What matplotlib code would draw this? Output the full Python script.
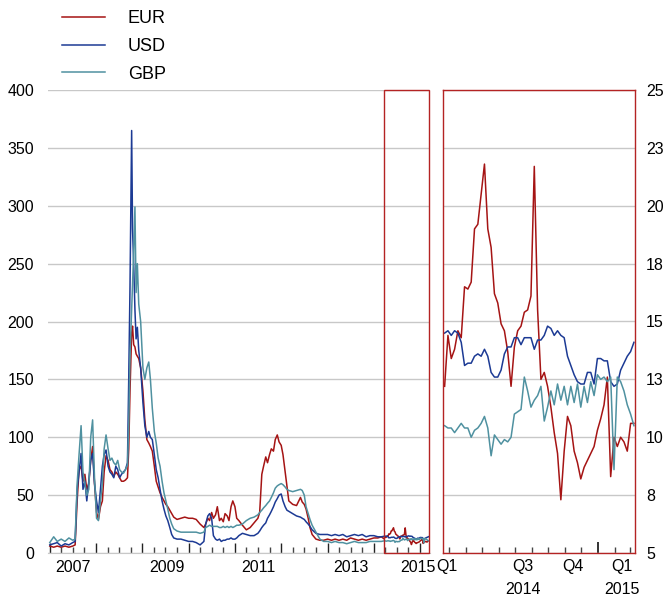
import matplotlib
matplotlib.use("Agg")
import matplotlib.pyplot as plt
import matplotlib.dates as mdates
from matplotlib.patches import Rectangle
import numpy as np
import pandas as pd

plt.rcParams["font.family"] = ["Liberation Sans", "DejaVu Sans"]

# long history, sampled more densely around the stress episodes
hist_dates = [
    "2007-01-01", "2007-02-01", "2007-03-01", "2007-04-01", "2007-05-01", "2007-06-01",
    "2007-07-01", "2007-07-20", "2007-08-05", "2007-08-20", "2007-09-05", "2007-09-20",
    "2007-10-05", "2007-10-20", "2007-11-05", "2007-11-20", "2007-12-05", "2007-12-20",
    "2008-01-05", "2008-01-20", "2008-02-05", "2008-02-20", "2008-03-05", "2008-03-20",
    "2008-04-05", "2008-04-20", "2008-05-05", "2008-05-20", "2008-06-05", "2008-06-20",
    "2008-07-05", "2008-07-20", "2008-08-05", "2008-08-20", "2008-09-05", "2008-09-15",
    "2008-09-25", "2008-10-08", "2008-10-15", "2008-10-24", "2008-11-03", "2008-11-12",
    "2008-11-22", "2008-12-03", "2008-12-18",
    "2009-01-05", "2009-01-20", "2009-02-05", "2009-02-20", "2009-03-05", "2009-03-20",
    "2009-04-05", "2009-04-20", "2009-05-05", "2009-05-20", "2009-06-05", "2009-06-20",
    "2009-07-05", "2009-07-20", "2009-08-05", "2009-08-20", "2009-09-05", "2009-10-01",
    "2009-11-01", "2009-12-01",
    "2010-01-01", "2010-02-01", "2010-03-01", "2010-04-01", "2010-05-01", "2010-05-15",
    "2010-06-01", "2010-06-15", "2010-07-01", "2010-07-15", "2010-08-01", "2010-08-15",
    "2010-09-01", "2010-09-15", "2010-10-01", "2010-10-15", "2010-11-01", "2010-11-15",
    "2010-12-01", "2010-12-15",
    "2011-01-01", "2011-01-15", "2011-02-01", "2011-03-01", "2011-04-01", "2011-05-01",
    "2011-06-01", "2011-07-01", "2011-07-15", "2011-08-01", "2011-08-15", "2011-09-01",
    "2011-09-15", "2011-10-01", "2011-10-15", "2011-11-01", "2011-11-15", "2011-12-01",
    "2011-12-15",
    "2012-01-01", "2012-01-15", "2012-02-01", "2012-02-15", "2012-03-01", "2012-04-01",
    "2012-05-01", "2012-06-01", "2012-06-15", "2012-07-01", "2012-07-15", "2012-08-01",
    "2012-08-15", "2012-09-01", "2012-10-01", "2012-11-01", "2012-12-01",
    "2013-01-01", "2013-02-01", "2013-03-01", "2013-04-01", "2013-05-01", "2013-06-01",
    "2013-07-01", "2013-08-01", "2013-09-01", "2013-10-01", "2013-11-01", "2013-12-01",
    "2014-01-01", "2014-02-01", "2014-03-01",
]
eur_hist = [
    6, 5, 6, 5, 6, 5, 6, 7, 45, 72, 75, 62, 68, 55, 60, 80, 92, 60,
    35, 29, 40, 45, 70, 84, 80, 72, 70, 66, 70, 68, 65, 62, 62, 63, 65, 90,
    140, 190, 196, 180, 178, 172, 170, 168, 160,
    140, 115, 98, 95, 92, 88, 75, 62, 57, 52, 48, 45, 42, 40, 37, 34, 31, 29, 30, 31,
    30, 30, 29, 25, 22, 25, 30, 28, 35, 30, 33, 40, 28, 30, 27, 34, 32, 28, 40, 45,
    40, 30, 28, 24, 20, 22, 26, 30, 35, 68, 75, 83, 78, 85, 90, 88, 98, 102, 96,
    93, 85, 70, 58, 45, 42, 41, 48, 44, 42, 38, 30, 22, 16, 12, 11, 11,
    12, 11, 12, 11, 12, 11, 13, 12, 11, 12, 11, 12,
    13, 13, 14,
]
usd_hist = [
    7, 8, 9, 6, 8, 7, 9, 10, 55, 70, 86, 55, 62, 45, 62, 80, 86, 60,
    45, 35, 55, 75, 85, 89, 75, 70, 68, 65, 75, 72, 65, 68, 70, 72, 78, 150,
    230, 365, 280, 250, 210, 185, 195, 175, 160,
    130, 110, 100, 105, 100, 98, 85, 72, 65, 55, 45, 38, 32, 28, 22, 16, 13, 12, 12, 11,
    10, 10, 9, 7, 10, 25, 32, 34, 30, 15, 12, 11, 12, 10, 11, 11, 12, 12, 13, 12,
    12, 13, 15, 17, 16, 15, 15, 17, 19, 22, 24, 26, 30, 33, 36, 40, 44, 47, 50,
    51, 45, 40, 37, 36, 34, 32, 31, 30, 29, 27, 25, 23, 20, 17, 16, 16,
    16, 15, 16, 15, 16, 14, 15, 16, 15, 16, 14, 15,
    15, 14, 14,
]
gbp_hist = [
    9, 14, 10, 12, 10, 13, 11, 12, 60, 85, 110, 70, 60, 50, 55, 100, 115, 65,
    30, 28, 45, 60, 90, 102, 90, 80, 82, 78, 76, 80, 72, 70, 69, 72, 76, 110,
    170, 210, 230, 260, 299, 225, 250, 215, 200,
    160, 150, 160, 165, 150, 125, 105, 95, 82, 75, 62, 52, 45, 38, 30, 25, 21, 19, 18, 18,
    18, 18, 18, 17, 18, 22, 23, 24, 23, 23, 23, 23, 22, 22, 23, 22, 23, 22, 23, 22,
    23, 24, 24, 25, 28, 30, 31, 33, 35, 37, 39, 41, 43, 45, 48, 52, 56, 58, 59,
    60, 59, 57, 55, 54, 53, 54, 55, 54, 50, 40, 34, 29, 24, 18, 12, 10,
    10, 9, 10, 9, 9, 8, 9, 10, 9, 9, 9, 10,
    10, 10, 10,
]

# recent window, one reading about every six days
recent_start, recent_end = "2014-03-23", "2015-03-09"
eur_recent = [
    12.2, 14.4, 13.4, 13.8, 14.6, 14.3, 16.5, 16.4, 16.7, 19.0,
    19.2, 20.5, 21.8, 19.0, 18.2, 16.2, 15.8, 14.9, 14.6, 13.7,
    12.2, 13.9, 14.6, 14.8, 15.4, 15.5, 16.1, 21.7, 15.5, 12.5,
    12.8, 12.2, 11.3, 10.2, 9.3, 7.3, 9.4, 10.9, 10.5, 9.4,
    8.9, 8.2, 8.7, 9.0, 9.3, 9.6, 10.3, 10.8, 11.4, 12.6,
    8.3, 10.0, 9.6, 10.0, 9.8, 9.4, 10.6, 10.6,
]
usd_recent = [
    14.5, 14.6, 14.4, 14.6, 14.5, 14.1, 13.1, 13.2, 13.2, 13.5,
    13.6, 13.5, 13.8, 13.5, 12.8, 12.6, 12.6, 12.9, 13.6, 13.9,
    13.9, 14.3, 14.3, 14.0, 14.3, 14.3, 14.3, 13.8, 14.2, 14.2,
    14.4, 14.8, 14.7, 14.4, 14.6, 14.4, 14.3, 13.5, 13.1, 12.7,
    12.4, 12.3, 12.3, 12.8, 12.8, 12.3, 13.4, 13.4, 13.3, 13.3,
    12.4, 12.2, 12.3, 12.9, 13.2, 13.5, 13.7, 14.1,
]
gbp_recent = [
    10.5, 10.4, 10.4, 10.2, 10.4, 10.6, 10.4, 10.4, 10.0, 10.3,
    10.4, 10.6, 10.9, 10.4, 9.2, 10.1, 9.9, 9.7, 9.9, 9.8,
    10.0, 11.0, 11.1, 11.2, 12.6, 12.0, 11.3, 11.6, 11.8, 12.2,
    10.7, 11.3, 12.0, 11.4, 12.3, 11.6, 12.2, 11.4, 12.2, 11.5,
    12.3, 11.3, 12.2, 11.5, 12.4, 11.8, 12.7, 12.5, 12.6, 12.4,
    12.6, 8.6, 12.6, 12.4, 12.0, 11.4, 11.0, 10.5,
]

series_names = ["EUR", "USD", "GBP"]
colors = ["#a51414", "#1c3a94", "#4f91a0"]
box_color = "#b42323"

hist_x = pd.to_datetime(hist_dates)
recent_x = pd.date_range(recent_start, recent_end, periods=len(eur_recent))
full_x = hist_x.append(recent_x)
full_series = [eur_hist + eur_recent, usd_hist + usd_recent, gbp_hist + gbp_recent]
recent_series = [eur_recent, usd_recent, gbp_recent]

left_lim = (pd.Timestamp("2006-12-18"), pd.Timestamp("2015-03-20"))
right_lim = (pd.Timestamp("2014-03-20"), pd.Timestamp("2015-03-11"))

W, H = 666, 601
fig = plt.figure(figsize=(W / 100, H / 100), dpi=100)

# ---- left panel: full history
ax = fig.add_axes([48 / W, 48 / H, 382 / W, 463 / H])
for name, vals, c in zip(series_names, full_series, colors):
    ax.plot(full_x, vals, color=c, lw=1.1, label=name)

ax.set_xlim(*left_lim)
ax.set_ylim(0, 400)
ax.set_yticks(np.arange(0, 401, 50))
ax.yaxis.grid(True, color="#c8c8c8", lw=1.0)
ax.set_axisbelow(True)
for s in ["left", "top", "right"]:
    ax.spines[s].set_visible(False)
ax.spines["bottom"].set_color("#c8c8c8")
ax.tick_params(axis="y", length=0, pad=10, labelsize=11.5)
ax.xaxis.set_major_locator(mdates.YearLocator())
ax.xaxis.set_minor_locator(mdates.MonthLocator(bymonth=[4, 7, 10]))
ax.tick_params(axis="x", which="major", direction="in", length=7, width=1, color="#222222",
               labelbottom=False)
ax.tick_params(axis="x", which="minor", direction="in", length=4, width=1, color="#444444")

year_labels = ["2007", "2009", "2011", "2013", "2015"]
year_pos = ["2007-07-01", "2009-07-10", "2011-07-01", "2013-07-05", "2014-12-17"]
for lab, pos in zip(year_labels, year_pos):
    ax.annotate(lab, xy=(pd.Timestamp(pos), 0), xycoords=("data", "axes fraction"),
                xytext=(0, -14), textcoords="offset pixels",
                ha="center", va="center", fontsize=11.5)

# outline of the window shown on the right
x0 = mdates.date2num(right_lim[0])
x1 = mdates.date2num(right_lim[1])
ax.add_patch(Rectangle((x0, 0), x1 - x0, 400, fill=False, edgecolor=box_color,
                       lw=1.0, clip_on=False, zorder=5))

# ---- right panel: recent window
ax2 = fig.add_axes([443 / W, 48 / H, 192 / W, 463 / H])
for vals, c in zip(recent_series, colors):
    ax2.plot(recent_x, vals, color=c, lw=1.1)

ax2.set_xlim(*right_lim)
ax2.set_ylim(5, 25)
ax2.set_yticks(np.arange(5, 25.1, 2.5))
ax2.set_yticklabels(["5", "8", "10", "13", "15", "18", "20", "23", "25"])
ax2.yaxis.tick_right()
ax2.yaxis.grid(True, color="#c8c8c8", lw=1.0)
ax2.set_axisbelow(True)
ax2.tick_params(axis="y", length=0, pad=8, labelsize=11.5)
for s in ax2.spines.values():
    s.set_color(box_color)
    s.set_linewidth(1.0)
ax2.xaxis.set_major_locator(mdates.YearLocator())
ax2.xaxis.set_minor_locator(mdates.MonthLocator())
ax2.tick_params(axis="x", which="major", direction="in", length=8, width=1.2, color="#111111",
                labelbottom=False)
ax2.tick_params(axis="x", which="minor", direction="in", length=4, width=1, color="#444444")

quarter_labels = ["Q1", "Q3", "Q4", "Q1"]
quarter_pos = ["2014-03-28", "2014-08-15", "2014-11-15", "2015-02-14"]
for lab, pos in zip(quarter_labels, quarter_pos):
    ax2.annotate(lab, xy=(pd.Timestamp(pos), 0), xycoords=("data", "axes fraction"),
                 xytext=(0, -14), textcoords="offset pixels",
                 ha="center", va="center", fontsize=11.5)
for lab, pos in zip(["2014", "2015"], ["2014-08-15", "2015-02-14"]):
    ax2.annotate(lab, xy=(pd.Timestamp(pos), 0), xycoords=("data", "axes fraction"),
                 xytext=(0, -37), textcoords="offset pixels",
                 ha="center", va="center", fontsize=11.5)

fig.legend(loc="upper left", bbox_to_anchor=(62 / W, 1 - 10 / H), frameon=False,
           fontsize=13, handlelength=2.4, handletextpad=1.25, labelspacing=0.6,
           borderpad=0, borderaxespad=0)

fig.savefig("out.png", dpi=100)
